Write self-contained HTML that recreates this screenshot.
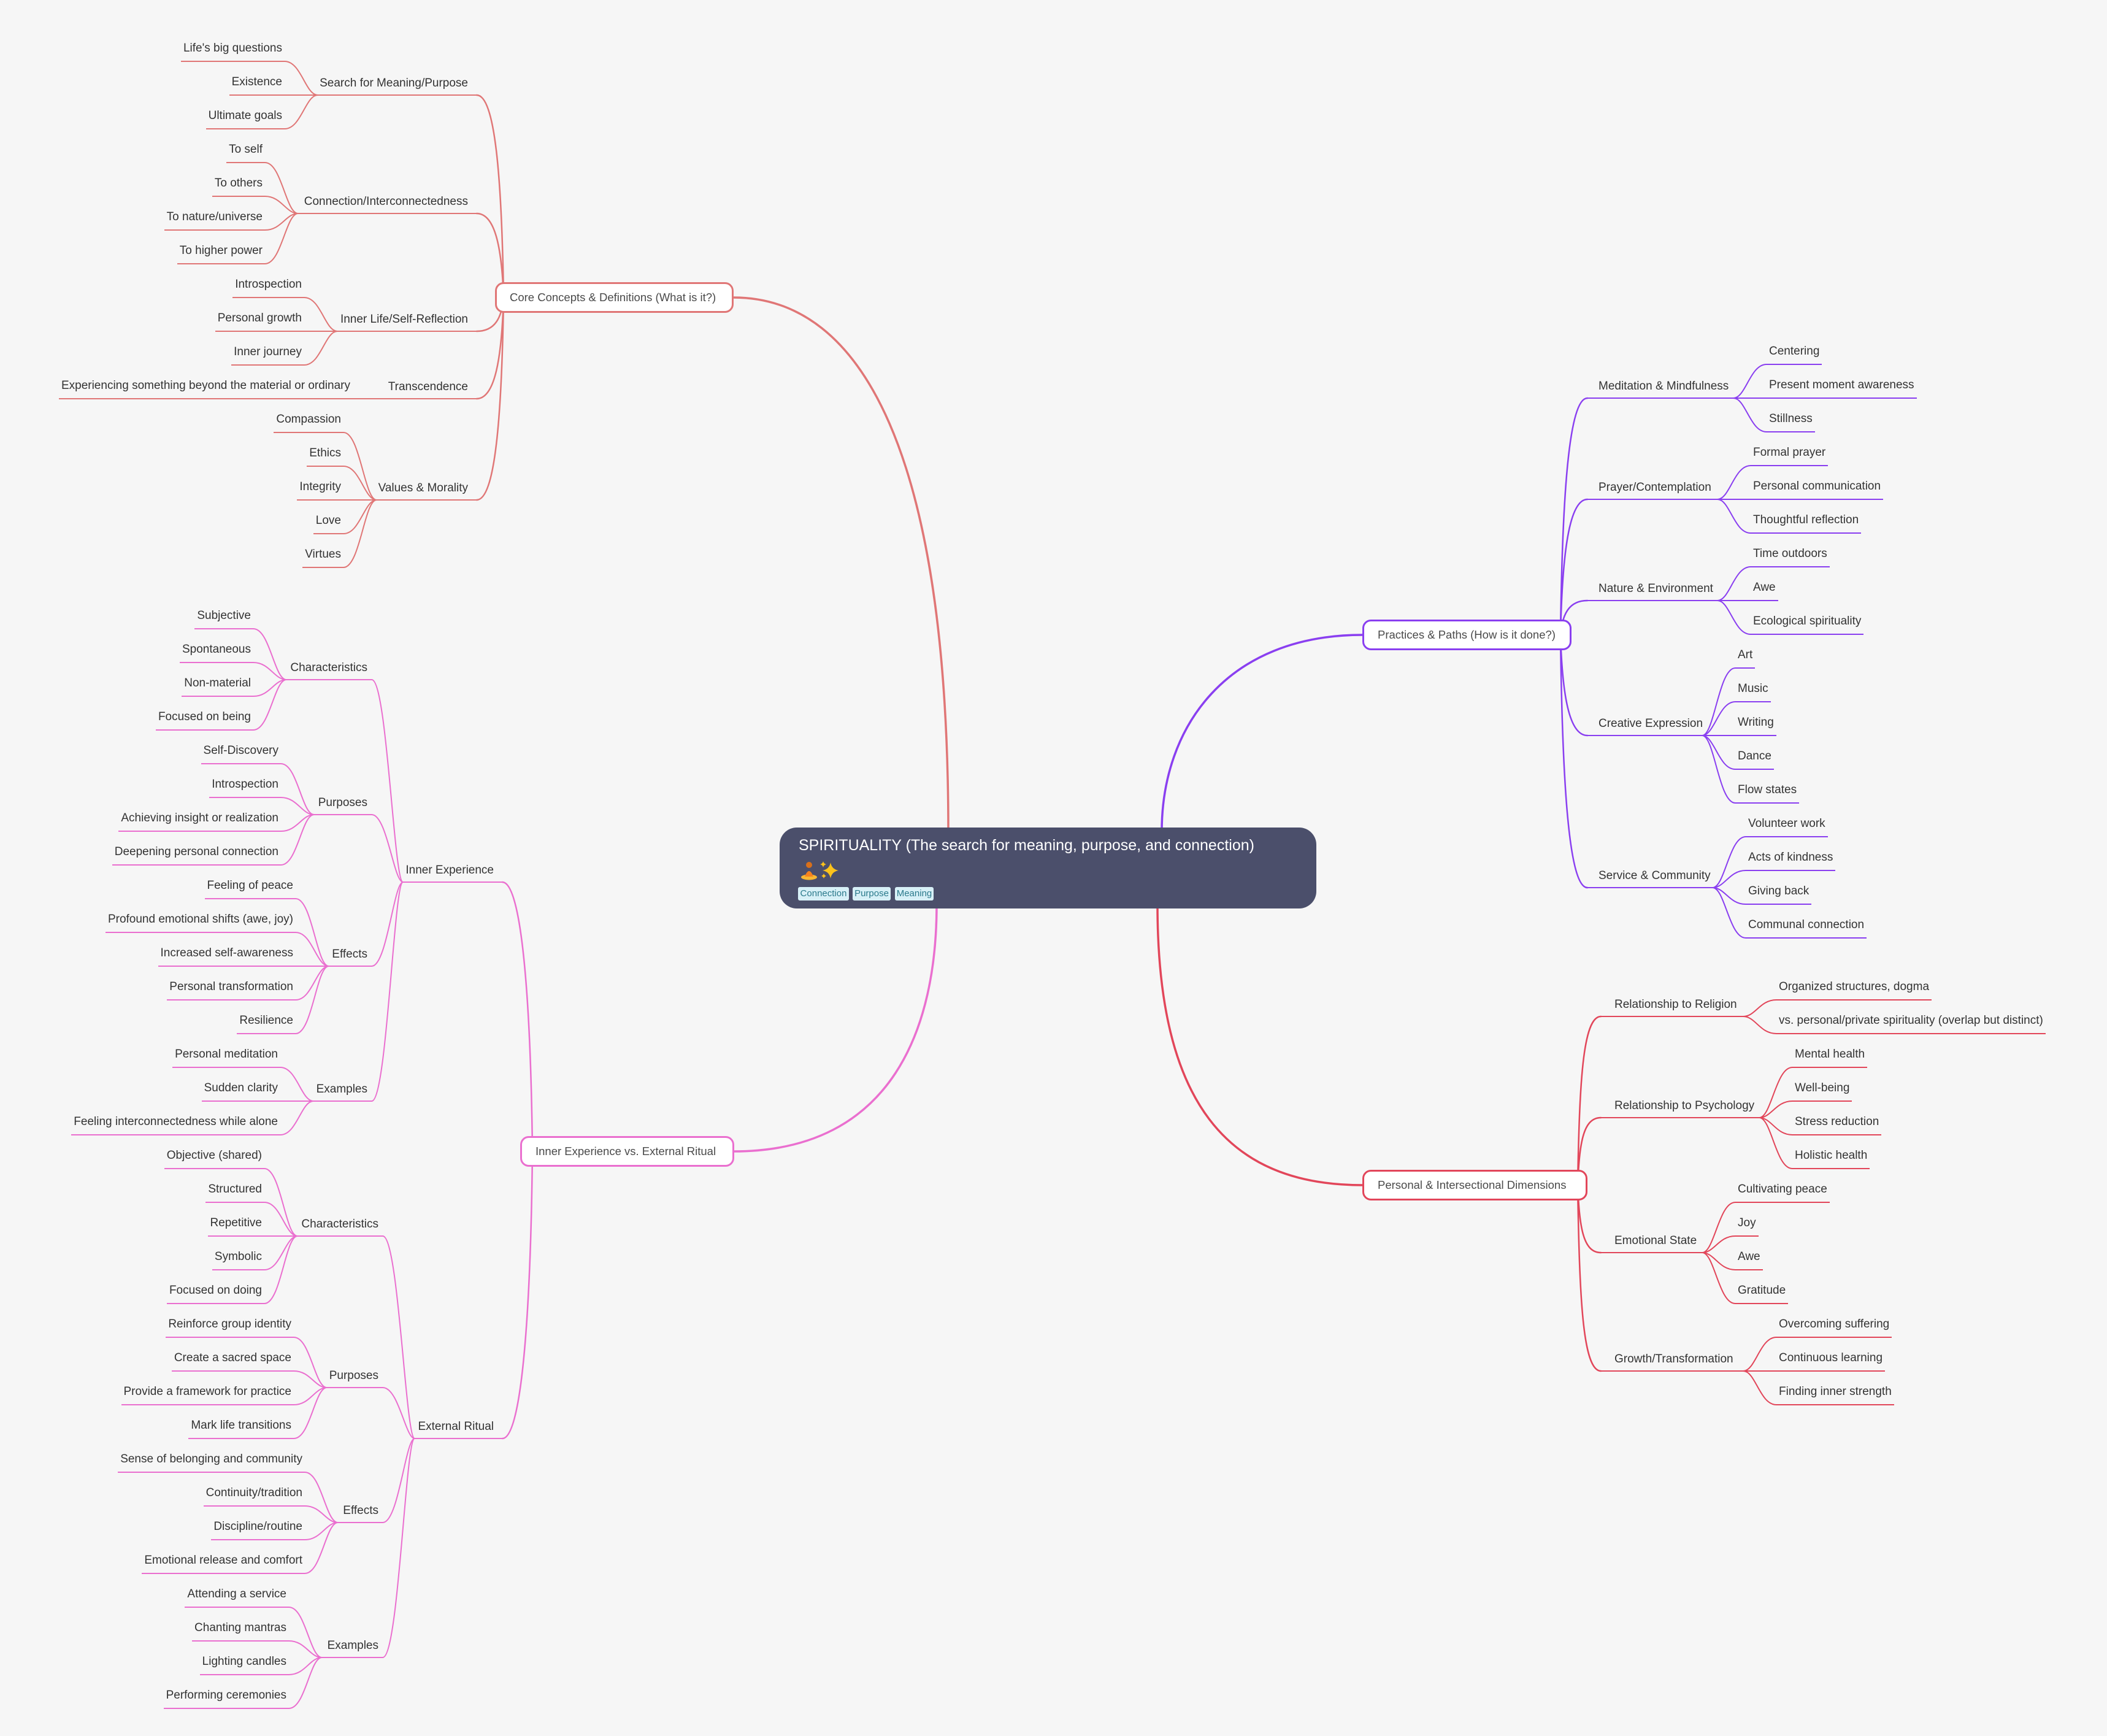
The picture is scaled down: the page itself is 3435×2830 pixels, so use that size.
<!DOCTYPE html>
<html><head><meta charset="utf-8">
<style>
html,body{margin:0;padding:0;background:#f6f6f6;}
body{width:3435px;height:2830px;overflow:hidden;}
#w{position:relative;width:3435px;height:2830px;background:#f6f6f6;font-family:"Liberation Sans","DejaVu Sans",sans-serif;}
.n{position:absolute;height:34px;line-height:24px;font-size:19px;padding:0 4px;border-bottom:2px solid;box-sizing:border-box;white-space:nowrap;color:#333;}
.a{border-color:#e07676}.b{border-color:#8a3ff0}.c{border-color:#e2465a}.d{border-color:#ea6fcf}
.bx{position:absolute;box-sizing:border-box;height:50px;border:3px solid;border-radius:14px;background:#fff;font-size:18.5px;color:#4a4a4a;line-height:44px;padding-left:22px;white-space:nowrap;}
.tag{position:absolute;top:1446px;height:22px;line-height:22px;font-size:15px;color:#2b7a8c;background:#d7f0f7;border-radius:3px;text-align:center;}
</style></head>
<body><div id="w">
<svg width="3435" height="2830" style="position:absolute;left:0;top:0" fill="none" stroke-linecap="round">
<!-- level 1 connectors -->
<g stroke-width="3.5">
<path d="M1546 1355 C1546 743 1407 485 1196 485" stroke="#e07676"/>
<path d="M1894 1355 C1894 1184 2001 1035 2221 1035" stroke="#8a3ff0"/>
<path d="M1887 1475 C1887 1798 2001 1932 2221 1932" stroke="#e2465a"/>
<path d="M1527 1475 C1527 1671 1458 1877 1196 1877" stroke="#ea6fcf"/>
</g>
<!-- Core group -->
<g stroke="#e07676" stroke-width="2.5">
<path d="M777 155 c30 0 41 132 44 330"/>
<path d="M777 348 c30 0 41 55 44 137"/>
<path d="M777 540 c30 0 41 -22 44 -55"/>
<path d="M777 650 c30 0 41 -66 44 -165"/>
<path d="M777 815 c30 0 41 -132 44 -330"/>
</g>
<g stroke="#e07676" stroke-width="2">
<path d="M518 155 H777 M486 348 H777 M550 540 H777 M629 650 H777 M614 815 H777"/>
<path d="M518 155 c-20 0 -27 -55 -54 -55 M518 155 h-54 M518 155 c-20 0 -27 55 -54 55"/>
<path d="M486 348 c-20 0 -27 -83 -54 -83 M486 348 c-20 0 -27 -28 -54 -28 M486 348 c-20 0 -27 27 -54 27 M486 348 c-20 0 -27 82 -54 82"/>
<path d="M550 540 c-20 0 -27 -55 -54 -55 M550 540 h-54 M550 540 c-20 0 -27 55 -54 55"/>
<path d="M629 650 h-54"/>
<path d="M614 815 c-20 0 -27 -110 -54 -110 M614 815 c-20 0 -27 -55 -54 -55 M614 815 h-54 M614 815 c-20 0 -27 55 -54 55 M614 815 c-20 0 -27 110 -54 110"/>
</g>
<!-- Practices group -->
<g stroke="#8a3ff0" stroke-width="2.5">
<path d="M2588 649 c-30 0 -41 154 -44 386"/>
<path d="M2588 814 c-30 0 -41 88 -44 221"/>
<path d="M2588 979 c-30 0 -41 22 -44 56"/>
<path d="M2588 1199 c-30 0 -41 -66 -44 -164"/>
<path d="M2588 1447 c-30 0 -41 -165 -44 -412"/>
</g>
<g stroke="#8a3ff0" stroke-width="2">
<path d="M2588 649 H2826 M2588 814 H2800 M2588 979 H2800 M2588 1199 H2775 M2588 1447 H2792"/>
<path d="M2826 649 c20 0 27 -55 54 -55 M2826 649 h54 M2826 649 c20 0 27 55 54 55"/>
<path d="M2800 814 c20 0 27 -55 54 -55 M2800 814 h54 M2800 814 c20 0 27 55 54 55"/>
<path d="M2800 979 c20 0 27 -55 54 -55 M2800 979 h54 M2800 979 c20 0 27 55 54 55"/>
<path d="M2775 1199 c20 0 27 -110 54 -110 M2775 1199 c20 0 27 -55 54 -55 M2775 1199 h54 M2775 1199 c20 0 27 55 54 55 M2775 1199 c20 0 27 110 54 110"/>
<path d="M2792 1447 c20 0 27 -83 54 -83 M2792 1447 c20 0 27 -28 54 -28 M2792 1447 c20 0 27 27 54 27 M2792 1447 c20 0 27 82 54 82"/>
</g>
<!-- Personal group -->
<g stroke="#e2465a" stroke-width="2.5">
<path d="M2610 1657 c-30 0 -35 110 -38 275"/>
<path d="M2610 1822 c-30 0 -35 44 -38 110"/>
<path d="M2610 2042 c-30 0 -35 -44 -38 -110"/>
<path d="M2610 2235 c-30 0 -35 -121 -38 -303"/>
</g>
<g stroke="#e2465a" stroke-width="2">
<path d="M2610 1657 H2842 M2610 1822 H2868 M2610 2042 H2775 M2610 2235 H2842"/>
<path d="M2842 1657 c20 0 27 -27 54 -27 M2842 1657 c20 0 27 28 54 28"/>
<path d="M2868 1822 c20 0 27 -82 54 -82 M2868 1822 c20 0 27 -27 54 -27 M2868 1822 c20 0 27 28 54 28 M2868 1822 c20 0 27 83 54 83"/>
<path d="M2775 2042 c20 0 27 -82 54 -82 M2775 2042 c20 0 27 -27 54 -27 M2775 2042 c20 0 27 28 54 28 M2775 2042 c20 0 27 83 54 83"/>
<path d="M2842 2235 c20 0 27 -55 54 -55 M2842 2235 h54 M2842 2235 c20 0 27 55 54 55"/>
</g>
<!-- Inner group -->
<g stroke="#ea6fcf" stroke-width="2.5">
<path d="M819 1438 c30 0 46 176 49 439"/>
<path d="M819 2345 c30 0 46 -187 49 -468"/>
</g>
<g stroke="#ea6fcf" stroke-width="2">
<path d="M657 1438 H819 M676 2345 H819"/>
<path d="M657 1438 c-15 0 -26 -330 -51 -330 M657 1438 c-15 0 -26 -110 -51 -110 M657 1438 c-15 0 -26 137 -51 137 M657 1438 c-15 0 -26 357 -51 357"/>
<path d="M676 2345 c-15 0 -26 -330 -52 -330 M676 2345 c-15 0 -26 -83 -52 -83 M676 2345 c-15 0 -26 137 -52 137 M676 2345 c-15 0 -26 357 -52 357"/>
<path d="M467 1108 H606 M512 1328 H606 M536 1575 H606 M511 1795 H606 M485 2015 H624 M533 2262 H624 M551 2482 H624 M525 2702 H624"/>
<path d="M467 1108 c-20 0 -27 -83 -54 -83 M467 1108 c-20 0 -27 -28 -54 -28 M467 1108 c-20 0 -27 27 -54 27 M467 1108 c-20 0 -27 82 -54 82"/>
<path d="M512 1328 c-20 0 -27 -83 -54 -83 M512 1328 c-20 0 -27 -28 -54 -28 M512 1328 c-20 0 -27 27 -54 27 M512 1328 c-20 0 -27 82 -54 82"/>
<path d="M536 1575 c-20 0 -27 -110 -54 -110 M536 1575 c-20 0 -27 -55 -54 -55 M536 1575 h-54 M536 1575 c-20 0 -27 55 -54 55 M536 1575 c-20 0 -27 110 -54 110"/>
<path d="M511 1795 c-20 0 -27 -55 -54 -55 M511 1795 h-54 M511 1795 c-20 0 -27 55 -54 55"/>
<path d="M485 2015 c-20 0 -27 -110 -54 -110 M485 2015 c-20 0 -27 -55 -54 -55 M485 2015 h-54 M485 2015 c-20 0 -27 55 -54 55 M485 2015 c-20 0 -27 110 -54 110"/>
<path d="M533 2262 c-20 0 -27 -82 -54 -82 M533 2262 c-20 0 -27 -27 -54 -27 M533 2262 c-20 0 -27 28 -54 28 M533 2262 c-20 0 -27 83 -54 83"/>
<path d="M551 2482 c-20 0 -27 -82 -54 -82 M551 2482 c-20 0 -27 -27 -54 -27 M551 2482 c-20 0 -27 28 -54 28 M551 2482 c-20 0 -27 83 -54 83"/>
<path d="M525 2702 c-20 0 -27 -82 -54 -82 M525 2702 c-20 0 -27 -27 -54 -27 M525 2702 c-20 0 -27 28 -54 28 M525 2702 c-20 0 -27 83 -54 83"/>
</g>
<!-- parent labels -->
<g stroke="none" fill="#333" font-family="Liberation Sans, sans-serif" font-size="19">
<g text-anchor="end">
<text x="763" y="141">Search for Meaning/Purpose</text>
<text x="763" y="334">Connection/Interconnectedness</text>
<text x="763" y="526">Inner Life/Self-Reflection</text>
<text x="763" y="636">Transcendence</text>
<text x="763" y="801">Values &amp; Morality</text>
<text x="805" y="1424">Inner Experience</text>
<text x="805" y="2331">External Ritual</text>
<text x="599" y="1094">Characteristics</text>
<text x="599" y="1314">Purposes</text>
<text x="599" y="1561">Effects</text>
<text x="599" y="1781">Examples</text>
<text x="617" y="2001">Characteristics</text>
<text x="617" y="2248">Purposes</text>
<text x="617" y="2468">Effects</text>
<text x="617" y="2688">Examples</text>
</g>
<text x="2606" y="635">Meditation &amp; Mindfulness</text>
<text x="2606" y="800">Prayer/Contemplation</text>
<text x="2606" y="965">Nature &amp; Environment</text>
<text x="2606" y="1185">Creative Expression</text>
<text x="2606" y="1433">Service &amp; Community</text>
<text x="2632" y="1643">Relationship to Religion</text>
<text x="2632" y="1808">Relationship to Psychology</text>
<text x="2632" y="2028">Emotional State</text>
<text x="2632" y="2221">Growth/Transformation</text>
</g>
</svg>

<!-- level-1 boxes -->
<div class="bx" style="left:807px;top:460px;width:389px;border-color:#e07676;padding-left:21px">Core Concepts &amp; Definitions (What is it?)</div>
<div class="bx" style="left:2221px;top:1010px;width:341px;border-color:#8a3ff0">Practices &amp; Paths (How is it done?)</div>
<div class="bx" style="left:2221px;top:1907px;width:367px;border-color:#e2465a">Personal &amp; Intersectional Dimensions</div>
<div class="bx" style="left:848px;top:1852px;width:349px;border-color:#ea6fcf">Inner Experience vs. External Ritual</div>

<!-- center node -->
<div style="position:absolute;left:1271px;top:1349px;width:875px;height:132px;border-radius:28px;background:#4b4f6b"></div>
<div style="position:absolute;left:1302px;top:1363px;font-size:25px;line-height:30px;color:#fff;white-space:nowrap">SPIRITUALITY (The search for meaning, purpose, and connection)</div>
<svg width="66" height="34" style="position:absolute;left:1304px;top:1402px">
<ellipse cx="15" cy="28" rx="13" ry="4.5" fill="#f7b733"/>
<path d="M8 27 Q15 9 22 27 Z" fill="#f5821f"/>
<circle cx="15" cy="8" r="5" fill="#d9701a"/>
<path d="M50 4 Q52 15 63 17 Q52 19 50 30 Q48 19 37 17 Q48 15 50 4Z" fill="#fcc21b"/>
<path d="M38 2 Q39 6 43 7 Q39 8 38 12 Q37 8 33 7 Q37 6 38 2Z" fill="#fcc21b"/>
<path d="M39 22 Q40 25 43 26 Q40 27 39 30 Q38 27 35 26 Q38 25 39 22Z" fill="#fcc21b"/>
</svg>
<div class="tag" style="left:1301px;width:83px">Connection</div>
<div class="tag" style="left:1390px;width:62px">Purpose</div>
<div class="tag" style="left:1459px;width:63px">Meaning</div>

<!-- Core leaves -->
<div class="n a" style="right:2971px;top:67px">Life's big questions</div>
<div class="n a" style="right:2971px;top:122px">Existence</div>
<div class="n a" style="right:2971px;top:177px">Ultimate goals</div>
<div class="n a" style="right:3003px;top:232px">To self</div>
<div class="n a" style="right:3003px;top:287px">To others</div>
<div class="n a" style="right:3003px;top:342px">To nature/universe</div>
<div class="n a" style="right:3003px;top:397px">To higher power</div>
<div class="n a" style="right:2939px;top:452px">Introspection</div>
<div class="n a" style="right:2939px;top:507px">Personal growth</div>
<div class="n a" style="right:2939px;top:562px">Inner journey</div>
<div class="n a" style="right:2860px;top:617px">Experiencing something beyond the material or ordinary</div>
<div class="n a" style="right:2875px;top:672px">Compassion</div>
<div class="n a" style="right:2875px;top:727px">Ethics</div>
<div class="n a" style="right:2875px;top:782px">Integrity</div>
<div class="n a" style="right:2875px;top:837px">Love</div>
<div class="n a" style="right:2875px;top:892px">Virtues</div>

<!-- Practices leaves -->
<div class="n b" style="left:2880px;top:561px">Centering</div>
<div class="n b" style="left:2880px;top:616px">Present moment awareness</div>
<div class="n b" style="left:2880px;top:671px">Stillness</div>
<div class="n b" style="left:2854px;top:726px">Formal prayer</div>
<div class="n b" style="left:2854px;top:781px">Personal communication</div>
<div class="n b" style="left:2854px;top:836px">Thoughtful reflection</div>
<div class="n b" style="left:2854px;top:891px">Time outdoors</div>
<div class="n b" style="left:2854px;top:946px">Awe</div>
<div class="n b" style="left:2854px;top:1001px">Ecological spirituality</div>
<div class="n b" style="left:2829px;top:1056px">Art</div>
<div class="n b" style="left:2829px;top:1111px">Music</div>
<div class="n b" style="left:2829px;top:1166px">Writing</div>
<div class="n b" style="left:2829px;top:1221px">Dance</div>
<div class="n b" style="left:2829px;top:1276px">Flow states</div>
<div class="n b" style="left:2846px;top:1331px">Volunteer work</div>
<div class="n b" style="left:2846px;top:1386px">Acts of kindness</div>
<div class="n b" style="left:2846px;top:1441px">Giving back</div>
<div class="n b" style="left:2846px;top:1496px">Communal connection</div>

<!-- Personal leaves -->
<div class="n c" style="left:2896px;top:1597px">Organized structures, dogma</div>
<div class="n c" style="left:2896px;top:1652px">vs. personal/private spirituality (overlap but distinct)</div>
<div class="n c" style="left:2922px;top:1707px">Mental health</div>
<div class="n c" style="left:2922px;top:1762px">Well-being</div>
<div class="n c" style="left:2922px;top:1817px">Stress reduction</div>
<div class="n c" style="left:2922px;top:1872px">Holistic health</div>
<div class="n c" style="left:2829px;top:1927px">Cultivating peace</div>
<div class="n c" style="left:2829px;top:1982px">Joy</div>
<div class="n c" style="left:2829px;top:2037px">Awe</div>
<div class="n c" style="left:2829px;top:2092px">Gratitude</div>
<div class="n c" style="left:2896px;top:2147px">Overcoming suffering</div>
<div class="n c" style="left:2896px;top:2202px">Continuous learning</div>
<div class="n c" style="left:2896px;top:2257px">Finding inner strength</div>

<!-- Inner / External leaves -->
<div class="n d" style="right:3022px;top:992px">Subjective</div>
<div class="n d" style="right:3022px;top:1047px">Spontaneous</div>
<div class="n d" style="right:3022px;top:1102px">Non-material</div>
<div class="n d" style="right:3022px;top:1157px">Focused on being</div>
<div class="n d" style="right:2977px;top:1212px">Self-Discovery</div>
<div class="n d" style="right:2977px;top:1267px">Introspection</div>
<div class="n d" style="right:2977px;top:1322px">Achieving insight or realization</div>
<div class="n d" style="right:2977px;top:1377px">Deepening personal connection</div>
<div class="n d" style="right:2953px;top:1432px">Feeling of peace</div>
<div class="n d" style="right:2953px;top:1487px">Profound emotional shifts (awe, joy)</div>
<div class="n d" style="right:2953px;top:1542px">Increased self-awareness</div>
<div class="n d" style="right:2953px;top:1597px">Personal transformation</div>
<div class="n d" style="right:2953px;top:1652px">Resilience</div>
<div class="n d" style="right:2978px;top:1707px">Personal meditation</div>
<div class="n d" style="right:2978px;top:1762px">Sudden clarity</div>
<div class="n d" style="right:2978px;top:1817px">Feeling interconnectedness while alone</div>
<div class="n d" style="right:3004px;top:1872px">Objective (shared)</div>
<div class="n d" style="right:3004px;top:1927px">Structured</div>
<div class="n d" style="right:3004px;top:1982px">Repetitive</div>
<div class="n d" style="right:3004px;top:2037px">Symbolic</div>
<div class="n d" style="right:3004px;top:2092px">Focused on doing</div>
<div class="n d" style="right:2956px;top:2147px">Reinforce group identity</div>
<div class="n d" style="right:2956px;top:2202px">Create a sacred space</div>
<div class="n d" style="right:2956px;top:2257px">Provide a framework for practice</div>
<div class="n d" style="right:2956px;top:2312px">Mark life transitions</div>
<div class="n d" style="right:2938px;top:2367px">Sense of belonging and community</div>
<div class="n d" style="right:2938px;top:2422px">Continuity/tradition</div>
<div class="n d" style="right:2938px;top:2477px">Discipline/routine</div>
<div class="n d" style="right:2938px;top:2532px">Emotional release and comfort</div>
<div class="n d" style="right:2964px;top:2587px">Attending a service</div>
<div class="n d" style="right:2964px;top:2642px">Chanting mantras</div>
<div class="n d" style="right:2964px;top:2697px">Lighting candles</div>
<div class="n d" style="right:2964px;top:2752px">Performing ceremonies</div>
</div></body></html>
